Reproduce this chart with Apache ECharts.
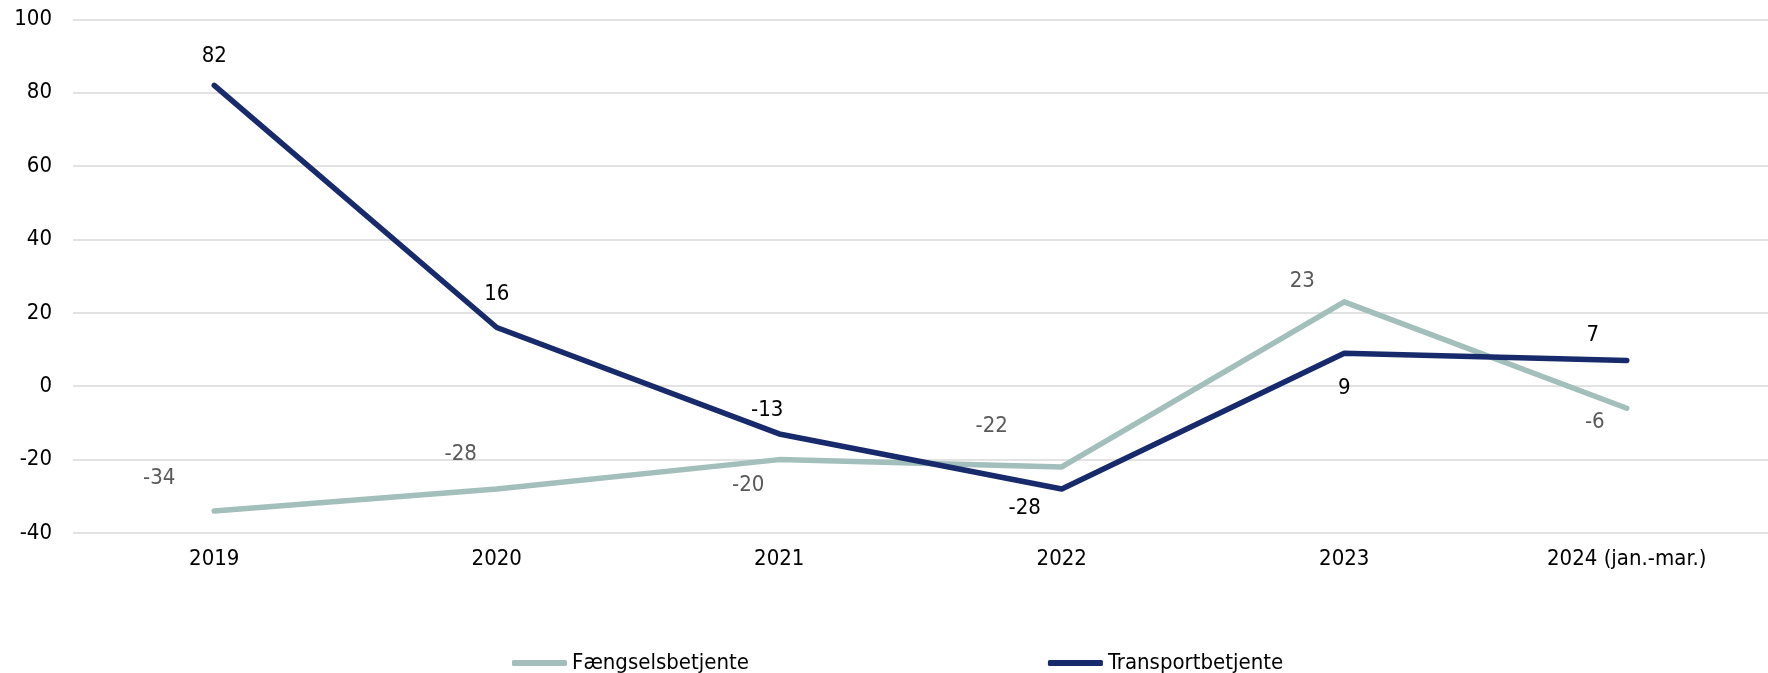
<!DOCTYPE html>
<html>
<head>
<meta charset="utf-8">
<script src="https://cdn.jsdelivr.net/npm/echarts@6/dist/echarts.min.js"></script>
<style>
html,body{margin:0;padding:0;background:#fff;}
#chart{width:1768px;height:673px;}
</style>
</head>
<body>
<div id="chart"></div>
<script>
const categories = ['2019', '2020', '2021', '2022', '2023', '2024 (jan.-mar.)'];
const faengsel = [-34, -28, -20, -22, 23, -6];
const transport = [82, 16, -13, -28, 9, 7];
const seriesNames = ['Fængselsbetjente', 'Transportbetjente'];
const yTicks = [-40, -20, 0, 20, 40, 60, 80, 100];

// label nudges (style only): [dx, dy] from point centre
const faengselNudge = [[-55,-33],[-36,-35],[-31,26],[-70,-41],[-42,-21],[-32,14]];
const transportNudge = [[0,-29],[0,-33],[-12,-24],[-37,19],[0,35],[-34,-25]];

const FONT = "'DejaVu Sans Condensed', 'DejaVu Sans', sans-serif";
const FS = 22;

function withLabels(values, nudges) {
  return values.map((v, i) => ({
    value: v,
    label: { offset: nudges[i] }
  }));
}

const chart = echarts.init(document.getElementById('chart'), null, {renderer: 'canvas'});
chart.setOption({
  animation: false,
  backgroundColor: '#ffffff',
  textStyle: { fontFamily: FONT },
  grid: { left: 73, right: -11.4, top: 19.3, bottom: 140, containLabel: false },
  legend: {
    left: 507, top: 647,
    itemWidth: 55, itemHeight: 6, itemGap: 299,
    icon: 'roundRect',
    textStyle: { fontFamily: FONT, fontSize: FS, color: '#000' },
    data: seriesNames
  },
  xAxis: {
    type: 'category',
    data: categories,
    boundaryGap: true,
    axisLine: { show: false },
    axisTick: { show: false },
    axisLabel: { fontFamily: FONT, fontSize: FS, color: '#000', margin: 15 }
  },
  yAxis: {
    type: 'value',
    min: yTicks[0], max: yTicks[yTicks.length - 1], interval: 20,
    axisLine: { show: false },
    axisTick: { show: false },
    splitLine: { lineStyle: { color: '#d9d9d9', width: 1.5 } },
    axisLabel: { fontFamily: FONT, fontSize: FS, color: '#000', margin: 21 }
  },
  series: [
    {
      name: seriesNames[0],
      type: 'line',
      data: withLabels(faengsel, faengselNudge),
      symbol: 'circle', symbolSize: 1, showSymbol: true,
      lineStyle: { color: '#a2bfbb', width: 5.5, cap: 'round', join: 'round' },
      itemStyle: { color: '#a2bfbb' },
      label: { show: true, position: 'inside', fontFamily: FONT, fontSize: FS, color: '#595959' },
      z: 2
    },
    {
      name: seriesNames[1],
      type: 'line',
      data: withLabels(transport, transportNudge),
      symbol: 'circle', symbolSize: 1, showSymbol: true,
      lineStyle: { color: '#172b6c', width: 5.5, cap: 'round', join: 'round' },
      itemStyle: { color: '#172b6c' },
      label: { show: true, position: 'inside', fontFamily: FONT, fontSize: FS, color: '#000' },
      z: 3
    }
  ]
});
</script>
</body>
</html>
